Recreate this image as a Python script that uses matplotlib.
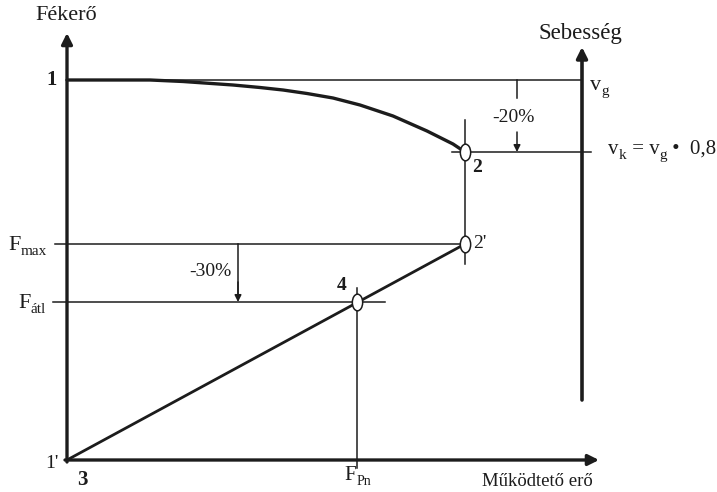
import matplotlib
matplotlib.use("Agg")
import matplotlib.pyplot as plt
from matplotlib.path import Path
from matplotlib.transforms import Affine2D

plt.rcParams['font.family'] = ['Liberation Serif', 'DejaVu Serif']

# braking force curve 1 -> 2
curve_x = [0, 83, 116, 166, 193, 216, 240, 266, 293, 326, 360, 386, 398]
curve_y = [380, 380, 378.5, 375, 372.5, 370, 366.5, 362, 355, 344, 329, 316, 308]

v_g = 380          # level "1" / vg
v_k = 308          # vk = 0.8 vg
F_max = 216
F_atl = 158
x_2 = 398          # point 2 / 2'
x_4 = 290          # point 4 / FPn
x_speed = 515      # right-hand speed axis
x_end = 532        # end of horizontal axis
y_top = 427        # top of left axis
y_speed_top = 413
y_speed_bot = 60

ink = '#1c1c1c'

fig = plt.figure(figsize=(7.17, 4.92), dpi=100)
ax = fig.add_axes([0, 0, 1, 1])
ax.set_xlim(-67, 650)
ax.set_ylim(-32, 460)
ax.axis('off')


def arrow(x0, y0, x1, y1, lw, ms):
    ax.annotate('', xy=(x1, y1), xytext=(x0, y0),
                arrowprops=dict(arrowstyle='-|>', lw=lw, color=ink,
                                mutation_scale=ms, shrinkA=0, shrinkB=0))


def chain(x, y, parts, size=15, subsize=10):
    # parts: list of (text, is_subscript); x,y = left/baseline of first part
    base = ax.text(x, y, parts[0][0], fontsize=size, ha='left', va='baseline', color=ink)
    prev = base
    for txt, is_sub in parts[1:]:
        if is_sub:
            prev = ax.annotate(txt, xy=(1, 0), xycoords=(prev, base),
                               xytext=(0.3, -2.5), textcoords='offset points',
                               fontsize=subsize, ha='left', va='bottom', color=ink)
        else:
            prev = ax.annotate(txt, xy=(1, 0), xycoords=(prev, base),
                               xytext=(0, 0), textcoords='offset points',
                               fontsize=size, ha='left', va='bottom', color=ink)
    return base


# main axes
arrow(0, -2, 0, y_top, 2.4, 16)
arrow(-2, 0, x_end, 0, 2.4, 16)
arrow(x_speed, y_speed_bot, x_speed, y_speed_top, 2.6, 16)

# thin guide lines
thin = dict(color=ink, lw=1.1)
ax.plot([0, x_speed], [v_g, v_g], **thin)
ax.plot([x_2 - 13, x_speed + 9], [v_k, v_k], **thin)
ax.plot([x_2, x_2], [340, 196], **thin)
ax.plot([-12, x_2], [F_max, F_max], **thin)
ax.plot([-14, x_4 + 28], [F_atl, F_atl], **thin)
ax.plot([x_4, x_4], [172, -8], **thin)

# curves
ax.plot(curve_x, curve_y, color=ink, lw=2.4, solid_capstyle='round',
        solid_joinstyle='round')
ax.plot([0, x_2], [0, F_max], color=ink, lw=2.0)

# -20% and -30% arrows
ax.plot([450, 450], [v_g, 362], **thin)
arrow(450, 328, 450, v_k, 1.1, 10)
ax.text(446, 342, '-20%', fontsize=14, ha='center', va='center', color=ink)
ax.plot([171, 171], [F_max, F_atl + 8], **thin)
arrow(171, 178, 171, F_atl, 1.1, 10)
ax.text(165, 188, '-30%', fontsize=14, ha='right', va='center', color=ink)

# open oval markers
oval = Path.unit_circle().transformed(Affine2D().scale(0.62, 1.0))
ax.plot([x_2, x_2, x_4], [v_k, F_max, F_atl], linestyle='none', marker=oval,
        markersize=12, markerfacecolor='white', markeredgecolor=ink,
        markeredgewidth=1.1)

# labels
ax.text(-1, 444, 'Fékerő', fontsize=16, ha='center', va='center', color=ink)
ax.text(513, 427, 'Sebesség', fontsize=16.5, ha='center', va='center', color=ink)
ax.text(-15, 380, '1', fontsize=15, fontweight='bold', ha='center', va='center', color=ink)
chain(523, 370, [('v', False), ('g', True)], size=16, subsize=11)
chain(541, 306, [('v', False), ('k', True), (' = v', False), ('g', True),
                 (' \u2022  0,8', False)], size=15, subsize=11)
ax.text(410, 292, '2', fontsize=14, fontweight='bold', ha='center', va='center', color=ink)
ax.text(406, 216, "2'", fontsize=14, ha='left', va='center', color=ink)
chain(-59, 210, [('F', False), ('max', True)], size=16, subsize=11)
chain(-49, 152, [('F', False), ('átl', True)], size=16, subsize=11)
ax.text(275, 174, '4', fontsize=14, fontweight='bold', ha='center', va='center', color=ink)
ax.text(-15, -3, "1'", fontsize=14, ha='center', va='center', color=ink)
ax.text(15, -20, '3', fontsize=15, fontweight='bold', ha='center', va='center', color=ink)
chain(277, -20, [('F', False), ('Pn', True)], size=15, subsize=10)
ax.text(470, -22, 'Működtető erő', fontsize=13.5, ha='center', va='center', color=ink)

fig.savefig('out.png', dpi=100, facecolor='white')
